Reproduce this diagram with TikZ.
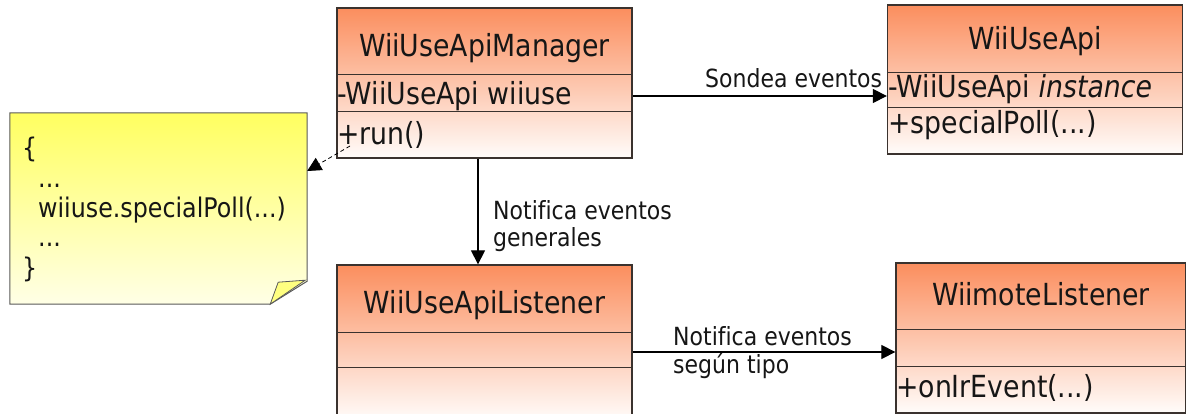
\documentclass[tikz,border=0pt]{standalone}
\usepackage{fontspec}
\setmainfont{DejaVu Sans}[FakeStretch=0.88,Ligatures=NoCommon]
\usetikzlibrary{arrows.meta,calc}
\definecolor{clstop}{RGB}{251,142,94}
\definecolor{clsbot}{RGB}{255,252,250}
\definecolor{notetop}{RGB}{255,255,96}
\definecolor{notebot}{RGB}{255,255,230}
\definecolor{clsline}{RGB}{58,50,46}
\definecolor{ink}{RGB}{22,22,22}
\tikzstyle{cls}=[draw=clsline,line width=1.3pt,top color=clstop,bottom color=clsbot,minimum width=295pt,inner sep=0pt]
\tikzstyle{sep}=[draw=clsline,line width=1.3pt]
\tikzstyle{nm}=[text=ink,inner sep=0pt,font=\fontsize{30.4}{36}\selectfont]
\tikzstyle{lbl}=[text=ink,inner sep=0pt,anchor=base west,font=\fontsize{25}{30}\selectfont]
\tikzstyle{cd}=[text=ink,inner sep=0pt,anchor=base west,font=\fontsize{27}{32}\selectfont]
\tikzstyle{arr}=[draw=black,line width=1.2pt,-{Triangle[length=14pt,width=14pt]}]

\begin{document}
\begin{tikzpicture}[x=1pt,y=-1pt]
\useasboundingbox (0,0) rectangle (1186,414);
\clip (0,0) rectangle (1186,414);
\node[cls,minimum height=150pt] (mgr) at (484.5,83) {};
\draw[sep] ($(mgr.north west)+(0,67)$) -- ++(295,0);
\draw[sep] ($(mgr.north west)+(0,104)$) -- ++(295,0);
\node[nm,anchor=base] (mgrname) at (484.5,57) {WiiUseApiManager};
\node[nm,anchor=base west] (mgrattr) at (337,105) {-WiiUseApi wiiuse};
\node[nm,anchor=base west] (mgrop) at (337,145) {+run()};
\node[cls,minimum height=149pt] (api) at (1035,79.5) {};
\draw[sep] ($(api.north west)+(0,68)$) -- ++(295,0);
\draw[sep] ($(api.north west)+(0,103)$) -- ++(295,0);
\node[nm,anchor=base] (apiname) at (1035,50) {WiiUseApi};
\node[nm,anchor=base west] (apiattr) at (888,98) {-WiiUseApi \textit{instance}};
\node[nm,anchor=base west] (apiop) at (888,134) {+specialPoll(...)};
\node[cls,minimum height=155pt] (lst) at (484.5,342.5) {};
\draw[sep] ($(lst.north west)+(0,68)$) -- ++(295,0);
\draw[sep] ($(lst.north west)+(0,103)$) -- ++(295,0);
\node[nm,anchor=base] (lstname) at (484.5,313) {WiiUseApiListener};
\node[cls,minimum width=290pt,minimum height=150pt] (wml) at (1041,338) {};
\draw[sep] ($(wml.north west)+(0,67)$) -- ++(290,0);
\draw[sep] ($(wml.north west)+(0,104)$) -- ++(290,0);
\node[nm,anchor=base] (wmlname) at (1041,305) {WiimoteListener};
\node[nm,anchor=base west] (wmlop) at (896,397) {+onIrEvent(...)};
\node[minimum width=297pt,minimum height=191pt,inner sep=0pt] (note) at (158.5,208.5) {};
\draw[draw=gray!70!black,line width=1pt,top color=notetop,bottom color=notebot] (note.north west) -- (note.north east) -- ($(note.south east)+(0,-23)$) -- ($(note.south east)+(-37,0)$) -- (note.south west) -- cycle;
\draw[draw=gray!70!black,line width=0.8pt,fill=notetop!80!white] ($(note.south east)+(-37,0)$) -- ($(note.south east)+(-29,-22)$) -- ($(note.south east)+(-2,-24)$) -- cycle;
\node[cd] (ob) at (22,158) {\{};
\node[cd] (d1) at (38,188) {...};
\node[cd] (call) at (38,218) {wiiuse.specialPoll(...)};
\node[cd] (d2) at (38,247) {...};
\node[cd] (cb) at (22,277) {\}};
\coordinate (dep) at (350,146);
\draw[arr,line width=0.8pt,dash pattern=on 4pt off 3pt] (dep) -- (note.east |- 0,171);
\draw[arr] (mgr.east |- 0,96) -- (api.west |- 0,96);
\node[lbl] (poll) at (705,88) {Sondea eventos};
\draw[arr] (mgr.south -| 478,0) -- (lst.north -| 478,0);
\node[lbl] (gen1) at (493,220) {Notifica eventos};
\node[lbl] (gen2) at (493,247) {generales};
\draw[arr] (lst.east |- 0,352) -- (wml.west |- 0,352);
\node[lbl] (typ1) at (673,345) {Notifica eventos};
\node[lbl] (typ2) at (673,373) {según tipo};
\end{tikzpicture}
\end{document}
